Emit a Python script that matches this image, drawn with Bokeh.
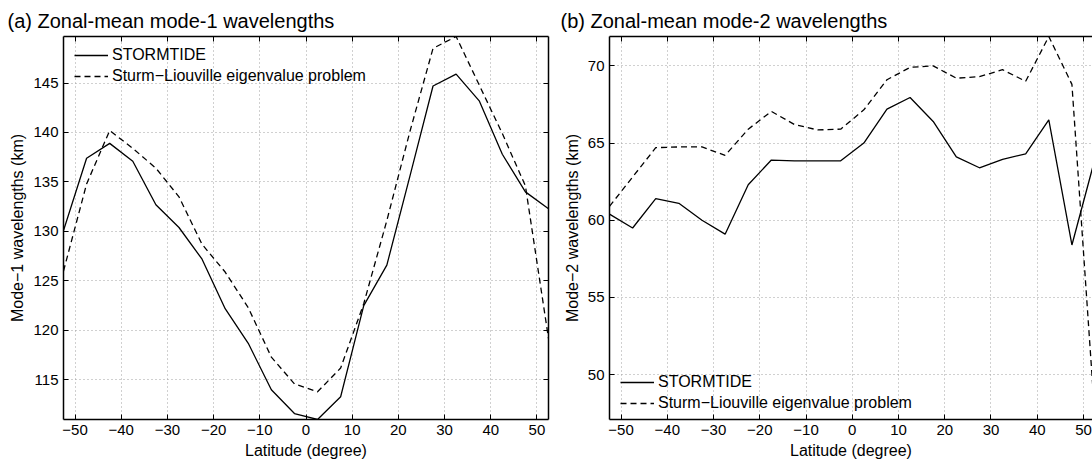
from bokeh.plotting import figure
from bokeh.models import LinearAxis, FixedTicker, Range1d, CustomJSTickFormatter
from bokeh.layouts import row
from bokeh.embed import file_html
from bokeh.resources import INLINE

# ---------------- data ----------------
latitude = [-52.5, -47.5, -42.5, -37.5, -32.5, -27.5, -22.5, -17.5, -12.5, -7.5, -2.5,
            2.5, 7.5, 12.5, 17.5, 22.5, 27.5, 32.5, 37.5, 42.5, 47.5, 52.5]

mode1_stormtide = [130.1, 137.4, 138.9, 137.1, 132.7, 130.4, 127.2, 122.2, 118.7, 114.0, 111.6,
                   111.0, 113.3, 122.5, 126.6, 135.6, 144.7, 145.9, 143.2, 137.8, 134.0, 132.3]
mode1_sturm = [126.0, 134.8, 140.2, 138.4, 136.4, 133.5, 128.7, 125.9, 122.3, 117.3, 114.6,
               113.8, 116.2, 122.7, 131.1, 140.1, 148.5, 149.7, 144.8, 139.9, 134.6, 119.2]

mode2_stormtide = [60.4, 59.5, 61.4, 61.1, 60.0, 59.1, 62.3, 63.9, 63.85, 63.85, 63.85,
                   65.0, 67.2, 67.95, 66.4, 64.1, 63.4, 63.95, 64.3, 66.5, 58.4, 64.0]
mode2_sturm = [60.9, 62.8, 64.7, 64.75, 64.75, 64.2, 65.9, 67.05, 66.2, 65.85, 65.9,
               67.15, 69.1, 69.9, 70.0, 69.2, 69.3, 69.75, 69.0, 71.9, 68.8, 47.1]

x_ticks = [-50, -40, -30, -20, -10, 0, 10, 20, 30, 40, 50]
y1_ticks = [115, 120, 125, 130, 135, 140, 145]
y2_ticks = [50, 55, 60, 65, 70]

series_names = ["STORMTIDE", "Sturm\u2212Liouville eigenvalue problem"]
titles = ["(a) Zonal-mean mode-1 wavelengths", "(b) Zonal-mean mode-2 wavelengths"]
y_labels = ["Mode\u22121 wavelengths (km)", "Mode\u22122 wavelengths (km)"]
x_label = "Latitude (degree)"

FONT = "Liberation Sans"
H = 465
TOP = 36
BOTTOM = 46


def style_axis(ax, ticks, show_labels=True):
    ax.ticker = FixedTicker(ticks=ticks)
    ax.major_tick_in = 5
    ax.major_tick_out = 0
    ax.minor_tick_in = 0
    ax.minor_tick_out = 0
    ax.axis_line_color = "black"
    ax.axis_line_width = 1.5
    ax.major_tick_line_color = "black"
    ax.major_tick_line_width = 1
    if show_labels:
        ax.formatter = CustomJSTickFormatter(
            code="return (tick < 0 ? '\u2212' : '') + Math.abs(tick).toFixed(0);")
        ax.major_label_text_font = FONT
        ax.major_label_text_font_size = "15px"
        ax.major_label_text_color = "black"
        ax.major_label_standoff = 5
        ax.axis_label_text_font = FONT
        ax.axis_label_text_font_size = "16px"
        ax.axis_label_text_font_style = "normal"
        ax.axis_label_text_color = "black"
        ax.axis_label_standoff = 4
    else:
        ax.major_label_text_color = None
        ax.major_label_text_font_size = "1px"
        ax.major_label_standoff = 0


def make_panel(width, border_left, border_right, x_end, y_range, y_ticks,
               solid, dashed, title, ylabel, title_offset, legend_loc, right_axis):
    p = figure(width=width, height=H, output_backend="svg", toolbar_location=None,
               x_range=Range1d(-52.5, x_end), y_range=Range1d(*y_range),
               min_border_left=border_left, min_border_right=border_right,
               min_border_top=TOP, min_border_bottom=BOTTOM,
               background_fill_color="white", border_fill_color="white",
               outline_line_color=None)
    p.title.text = title
    p.title.text_font = FONT
    p.title.text_font_size = "20px"
    p.title.text_font_style = "normal"
    p.title.text_color = "black"
    p.title.align = "left"
    p.title.offset = title_offset
    p.title.standoff = 10

    style_axis(p.xaxis[0], x_ticks)
    style_axis(p.yaxis[0], y_ticks)
    p.xaxis.axis_label = x_label
    p.yaxis.axis_label = ylabel

    top = LinearAxis()
    style_axis(top, x_ticks, show_labels=False)
    p.add_layout(top, "above")
    if right_axis:
        rt = LinearAxis()
        style_axis(rt, y_ticks, show_labels=False)
        p.add_layout(rt, "right")

    for g in (p.xgrid[0], p.ygrid[0]):
        g.grid_line_color = "#a0a0a0"
        g.grid_line_dash = "1 3"
        g.grid_line_width = 1

    p.line(latitude, solid, line_color="black", line_width=1.3, legend_label=series_names[0])
    p.line(latitude, dashed, line_color="black", line_width=1.3, line_dash="6 4",
           legend_label=series_names[1])

    lg = p.legend[0]
    lg.location = legend_loc
    lg.margin = 0
    lg.padding = 0
    lg.spacing = 1
    lg.glyph_width = 34
    lg.glyph_height = 20
    lg.label_height = 20
    lg.label_standoff = 4
    lg.label_text_font = FONT
    lg.label_text_font_size = "16px"
    lg.label_text_color = "black"
    lg.background_fill_alpha = 0
    lg.border_line_color = None
    return p


p1 = make_panel(560, 63, 12, 52.5, (111.0, 149.7), y1_ticks,
                mode1_stormtide, mode1_sturm, titles[0], y_labels[0], -56, (11, 333), True)
p2 = make_panel(532, 49, 0, 51.95, (47.1, 71.9), y2_ticks,
                mode2_stormtide, mode2_sturm, titles[1], y_labels[1], -49, (11, 6), False)

layout = row(p1, p2)
open("out.html", "w").write(file_html(layout, INLINE))
